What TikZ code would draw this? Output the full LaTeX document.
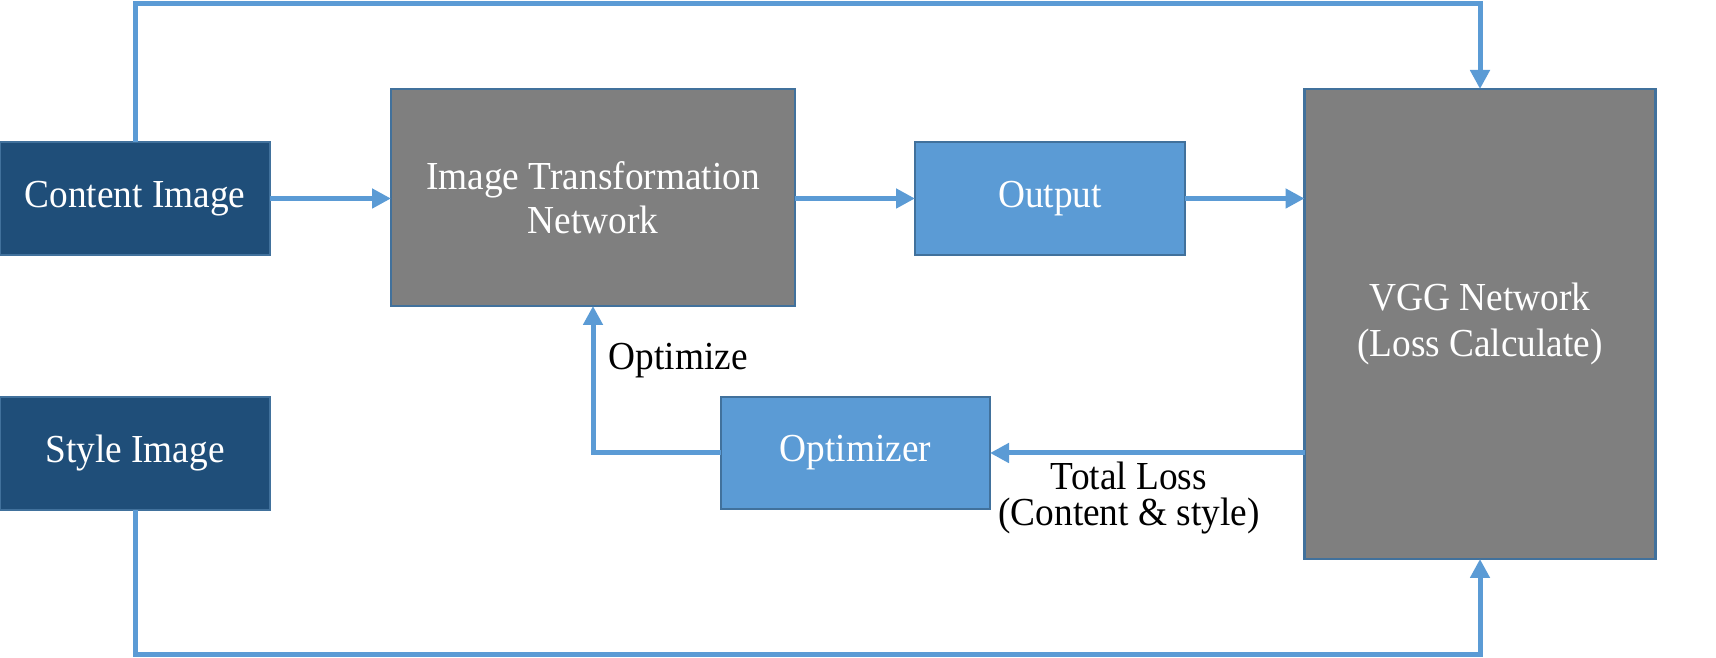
\documentclass[tikz,border=0pt]{standalone}
\usepackage{fontspec}
\setmainfont{Liberation Serif}[FakeStretch=0.94]
\usetikzlibrary{arrows.meta}
\definecolor{lineblue}{HTML}{5B9BD5}
\definecolor{edgeblue}{HTML}{41719C}
\definecolor{darkblue}{HTML}{1F4E79}
\definecolor{boxgray}{HTML}{7F7F7F}

\begin{document}
\begin{tikzpicture}[
	box/.style={draw=edgeblue,line width=0.6pt,inner sep=0,outer sep=0,text=white,align=center,font=\fontsize{11.3}{12.5}\selectfont},
	link/.style={draw=lineblue,line width=0.05cm,-{Triangle[length=0.19cm,width=0.19cm]}},
	lbl/.style={inner sep=0,align=center,font=\fontsize{11.3}{10.2}\selectfont}]
	\useasboundingbox (0,0) rectangle (17.16,6.58);
	\node[box,fill=darkblue,minimum width=2.70cm,minimum height=1.13cm] (content) at (1.35,4.595) {Content Image};
	\node[box,fill=darkblue,minimum width=2.70cm,minimum height=1.13cm] (style) at (1.35,2.045) {Style Image};
	\node[box,fill=boxgray,minimum width=4.04cm,minimum height=2.17cm] (itn) at (5.93,4.605) {Image Transformation\\Network};
	\node[box,fill=lineblue,minimum width=2.70cm,minimum height=1.13cm] (output) at (10.50,4.595) {Output};
	\node[box,fill=lineblue,minimum width=2.69cm,minimum height=1.12cm] (opt) at (8.555,2.05) {Optimizer};
	\node[box,fill=boxgray,minimum width=3.51cm,minimum height=4.70cm,font=\fontsize{11.3}{13.3}\selectfont] (vgg) at (14.80,3.34) {VGG Network\\(Loss Calculate)};
	\draw[link] (content.east) -- (content.east -| itn.west);
	\draw[link] (output.west -| itn.east) -- (output.west);
	\draw[link] (output.east) -- (output.east -| vgg.west);
	\draw[link] (content.north) -- ++(0,1.38) -| (vgg.north);
	\draw[link] (style.south) -- ++(0,-1.445) -| (vgg.south);
	\draw[link] (vgg.west |- opt.east) -- (opt.east);
	\draw[link] (opt.west) -| (itn.south);
	\node[lbl,anchor=base west] (optlabel) at (6.08,2.88) {Optimize};
	\node[lbl] (losslabel) at (11.29,1.60) {Total Loss\\(Content \& style)};
\end{tikzpicture}
\end{document}
